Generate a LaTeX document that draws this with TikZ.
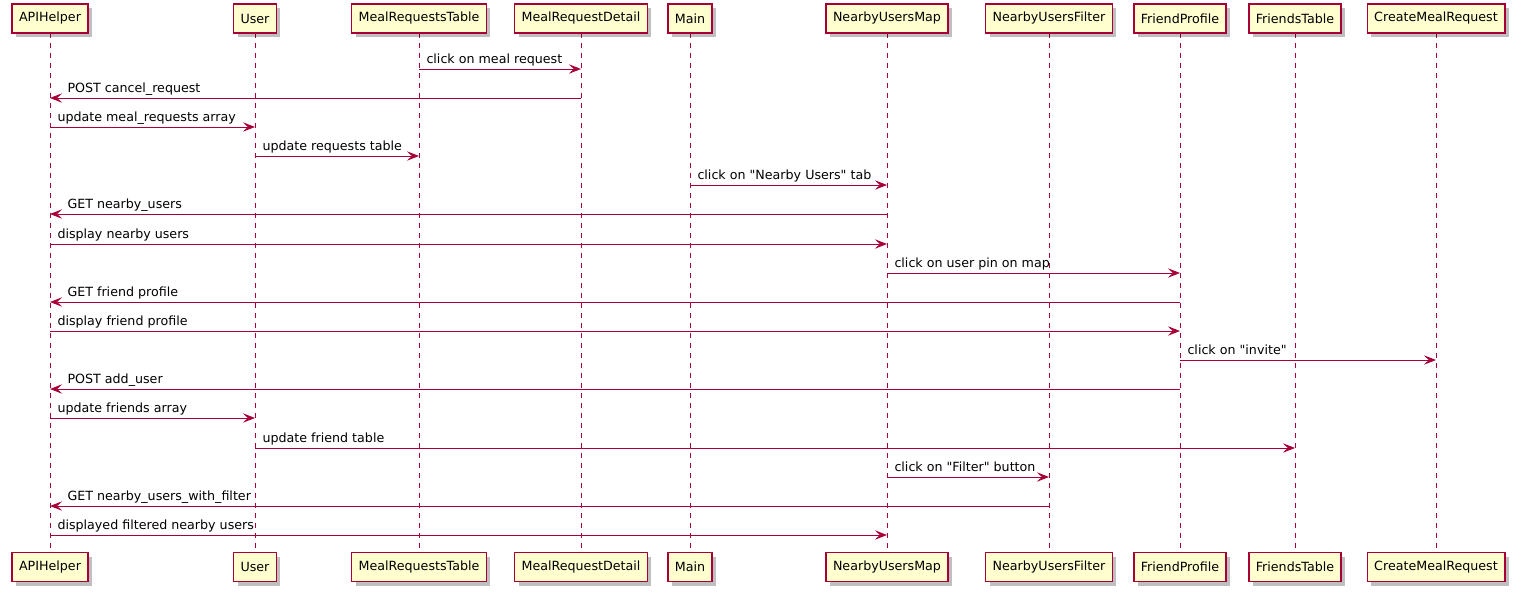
\documentclass[tikz,border=0pt]{standalone}
\usepackage{fontspec}
\setmainfont{DejaVu Sans}
\usetikzlibrary{arrows.meta,shadows}
\definecolor{uml}{HTML}{A80036}
\definecolor{pale}{HTML}{FEFECE}
\tikzset{
  part/.style={draw=uml,fill=pale,line width=1.1pt,minimum height=21.75pt,inner xsep=5.25pt,
    drop shadow={shadow xshift=3pt,shadow yshift=-3pt,fill=black,opacity=.25}},
  life/.style={uml,line width=.75pt,dash pattern=on 3.75pt off 3.75pt},
  msg/.style={uml,line width=.75pt,-{Stealth[length=9pt,width=7pt,inset=3.6pt]}},
  txt/.style={black,anchor=base west,inner sep=0pt,yshift=4.1pt},
}
\begin{document}
\begin{tikzpicture}[x=.75pt,y=-.75pt,font=\fontsize{9.5}{11}\selectfont]
\useasboundingbox (0,0) rectangle (1521,593);
% participants, top and bottom
\foreach \n/\x/\lbl in {api/50/APIHelper, usr/255/User, mrt/419/MealRequestsTable,
  mrd/581/MealRequestDetail, main/690/Main, num/887/NearbyUsersMap,
  nuf/1049/NearbyUsersFilter, fp/1180/FriendProfile, ft/1295/FriendsTable,
  cmr/1436/CreateMealRequest}{
  \draw[life] (\x,33) -- (\x,552);
  \node[part] (\n) at (\x,18.5) {\lbl};
  \node[part] (\n-b) at (\x,567) {\lbl};
}
% messages to the right
\foreach \a/\b/\y/\lbl in {mrt/mrd/69/click on meal request,
  api/usr/127/update meal\_requests array, usr/mrt/156/update requests table,
  main/num/185/click on \textquotedbl Nearby Users\textquotedbl{} tab,
  api/num/244/display nearby users,
  num/fp/273/click on user pin on map, api/fp/331/display friend profile,
  fp/cmr/360/click on \textquotedbl invite\textquotedbl, api/usr/418/update friends array,
  usr/ft/448/update friend table,
  num/nuf/477/click on \textquotedbl Filter\textquotedbl{} button,
  api/num/535/displayed filtered nearby users}{
  \coordinate (m) at (0,\y);
  \draw[msg] (\a |- m) -- (\b |- m) node[txt,pos=0,xshift=5.25pt] {\lbl};
}
% messages to the left
\foreach \a/\b/\y/\lbl in {mrd/api/98/POST cancel\_request,
  num/api/214/GET nearby\_users, fp/api/302/GET friend profile,
  fp/api/389/POST add\_user, nuf/api/506/GET nearby\_users\_with\_filter}{
  \coordinate (m) at (0,\y);
  \draw[msg] (\a |- m) -- (\b |- m) node[txt,pos=1,xshift=12.75pt] {\lbl};
}
\end{tikzpicture}
\end{document}
